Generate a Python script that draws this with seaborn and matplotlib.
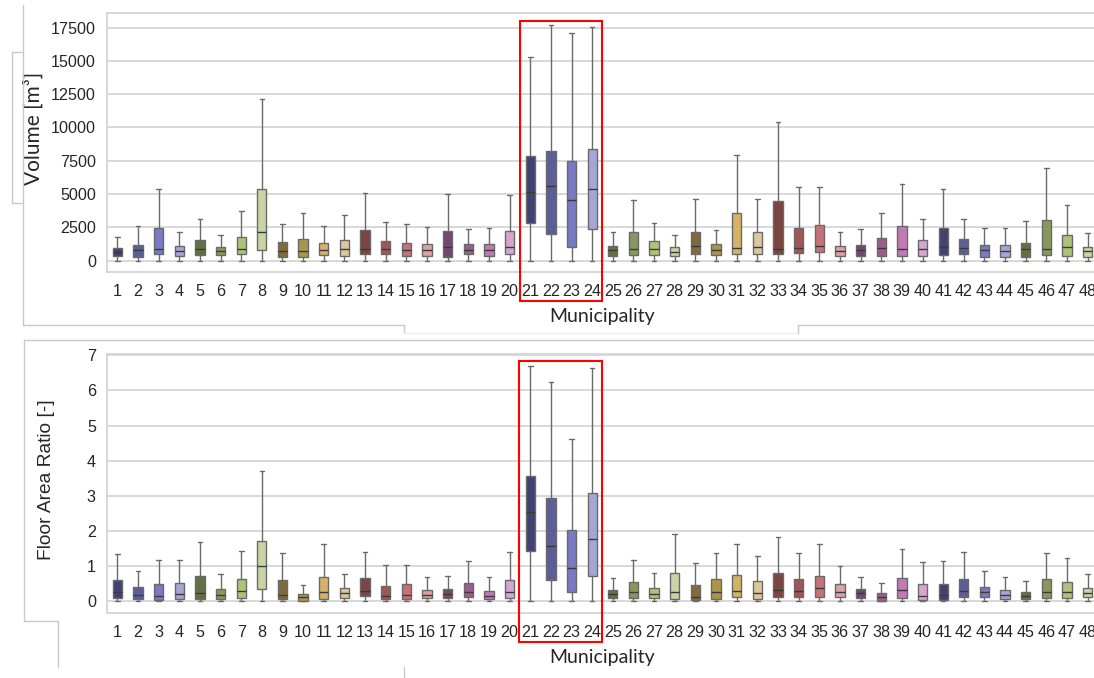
import numpy as np
import pandas as pd
import matplotlib
matplotlib.use("Agg")
import matplotlib.pyplot as plt
from matplotlib.lines import Line2D
from matplotlib.patches import Rectangle
import seaborn as sns

# Municipality identifiers
municipalities = [str(i) for i in range(1, 49)]

# Building volume [m3] per municipality: whisker ends, quartiles and median
vol_low = [0] * 48
vol_q1 = [340, 240, 480, 340, 440, 440, 460, 825, 290, 290,
          390, 340, 510, 460, 360, 340, 290, 460, 340, 460,
          2790, 1965, 1010, 2360, 360, 440, 390, 320, 490, 410,
          490, 490, 490, 560, 615, 340, 340, 340, 340, 360,
          410, 490, 260, 290, 240, 440, 340, 240]
vol_med = [640, 760, 900, 710, 840, 690, 840, 2120, 740, 740,
           760, 840, 890, 890, 760, 760, 1040, 790, 790, 1040,
           5115, 5590, 4540, 5385, 790, 840, 860, 680, 1100, 790,
           940, 1010, 860, 940, 1090, 740, 790, 915, 840, 890,
           1040, 965, 790, 740, 840, 840, 990, 740]
vol_q3 = [940, 1190, 2410, 1090, 1510, 1000, 1760, 5380, 1370, 1590,
          1310, 1540, 2310, 1460, 1340, 1210, 2190, 1210, 1240, 2210,
          7840, 8235, 7515, 8415, 1090, 2115, 1440, 1000, 2140, 1240,
          3560, 2140, 4460, 2480, 2660, 1110, 1160, 1710, 2610, 1540,
          2440, 1590, 1140, 1190, 1340, 3040, 1890, 990]
vol_high = [1785, 2560, 5340, 2140, 3110, 1935, 3710, 12150, 2740, 3540,
            2610, 3460, 5090, 2910, 2760, 2510, 5010, 2340, 2460, 4890,
            15285, 17685, 17060, 17535, 2140, 4540, 2790, 1910, 4610, 2290,
            7910, 4650, 10400, 5510, 5535, 2160, 2340, 3540, 5740, 3090,
            5385, 3090, 2415, 2415, 2960, 6990, 4190, 2040]

# Floor area ratio [-] per municipality
far_low = [0.0] * 48
far_q1 = [0.09, 0.07, 0.04, 0.06, 0.06, 0.06, 0.10, 0.35, 0.06, 0.02,
          0.05, 0.09, 0.15, 0.05, 0.06, 0.09, 0.08, 0.11, 0.07, 0.08,
          1.44, 0.59, 0.26, 0.71, 0.09, 0.09, 0.08, 0.06, 0.04, 0.06,
          0.12, 0.05, 0.12, 0.13, 0.11, 0.11, 0.09, 0.01, 0.09, 0.04,
          0.04, 0.11, 0.11, 0.06, 0.06, 0.09, 0.09, 0.11]
far_med = [0.26, 0.18, 0.16, 0.21, 0.24, 0.19, 0.29, 0.99, 0.19, 0.11,
           0.25, 0.23, 0.30, 0.15, 0.19, 0.18, 0.20, 0.27, 0.16, 0.27,
           2.55, 1.58, 0.95, 1.77, 0.21, 0.25, 0.21, 0.25, 0.12, 0.25,
           0.30, 0.22, 0.33, 0.30, 0.37, 0.26, 0.22, 0.11, 0.32, 0.16,
           0.18, 0.30, 0.25, 0.19, 0.15, 0.26, 0.27, 0.24]
far_q3 = [0.61, 0.40, 0.50, 0.51, 0.71, 0.36, 0.64, 1.71, 0.59, 0.21,
          0.70, 0.38, 0.67, 0.44, 0.48, 0.33, 0.34, 0.52, 0.30, 0.61,
          3.56, 2.93, 2.03, 3.08, 0.32, 0.55, 0.38, 0.80, 0.45, 0.62,
          0.75, 0.58, 0.80, 0.63, 0.72, 0.48, 0.35, 0.23, 0.66, 0.48,
          0.48, 0.64, 0.41, 0.33, 0.27, 0.62, 0.55, 0.38]
far_high = [1.35, 0.87, 1.18, 1.18, 1.68, 0.78, 1.43, 3.70, 1.37, 0.47,
            1.62, 0.78, 1.40, 1.02, 1.03, 0.68, 0.73, 1.15, 0.68, 1.41,
            6.70, 6.25, 4.61, 6.64, 0.67, 1.18, 0.80, 1.90, 1.10, 1.37,
            1.62, 1.30, 1.82, 1.37, 1.63, 1.01, 0.70, 0.52, 1.50, 1.12,
            1.14, 1.39, 0.87, 0.70, 0.58, 1.37, 1.23, 0.78]

vol_ticks = [0, 2500, 5000, 7500, 10000, 12500, 15000, 17500]
far_ticks = [0, 1, 2, 3, 4, 5, 6, 7]


def five_number_frame(low, q1, med, q3, high, name):
    # Five values per group reproduce the quartiles exactly with linear percentiles
    rows = []
    for m, vals in zip(municipalities, zip(low, q1, med, q3, high)):
        for v in vals:
            rows.append({"Municipality": m, name: v})
    return pd.DataFrame(rows)


vol_df = five_number_frame(vol_low, vol_q1, vol_med, vol_q3, vol_high, "Volume")
far_df = five_number_frame(far_low, far_q1, far_med, far_q3, far_high, "FAR")

sns.set_theme(style="whitegrid")
plt.rcParams["font.family"] = ["Liberation Sans", "DejaVu Sans"]

base = sns.color_palette("tab20b", 20)
palette = [base[i % 20] for i in range(len(municipalities))]

W, H = 1094, 678
fig = plt.figure(figsize=(W / 100, H / 100), dpi=100)


def fx(px):
    return px / W


def fy(py):
    return 1 - py / H


ax_top = fig.add_axes([fx(107), fy(272), fx(991), 259 / H])
ax_bot = fig.add_axes([fx(107), fy(613), fx(991), 259 / H])

grid_col = "#d6d6d6"
line_col = "#6a6a6a"

for ax, df, col, ticks, ylim in [
    (ax_top, vol_df, "Volume", vol_ticks, (-860, 18600)),
    (ax_bot, far_df, "FAR", far_ticks, (-0.335, 7.035)),
]:
    sns.boxplot(data=df, x="Municipality", y=col, hue="Municipality",
                order=municipalities, hue_order=municipalities,
                palette=palette, legend=False, whis=(0, 100),
                showfliers=False, width=0.45, linewidth=1.0,
                linecolor=line_col,
                medianprops={"color": "#3a3a3a"}, ax=ax)
    ax.set_ylim(*ylim)
    ax.set_xlim(-0.5, len(municipalities) - 0.5)
    ax.set_yticks(ticks)
    ax.yaxis.grid(True, color=grid_col, linewidth=1.3)
    ax.xaxis.grid(False)
    for s in ax.spines.values():
        s.set_color(grid_col)
        s.set_linewidth(1.3)
    ax.tick_params(axis="both", length=0, labelsize=11.6, colors="#262626")
    ax.tick_params(axis="x", pad=8.5)
    ax.tick_params(axis="y", pad=8)
    ax.set_xlabel("Municipality", fontsize=14, family=["Lato", "DejaVu Sans"],
                  color="#262626", labelpad=6.5)

ax_top.set_ylabel("Volume [m³]", fontsize=15, family=["Lato", "DejaVu Sans"],
                  color="#262626")
ax_top.yaxis.set_label_coords((34 - 107) / 991, (272 - 128) / 259)
ax_top.yaxis.label.set_va("center")

ax_bot.set_ylabel("Floor Area Ratio [-]", fontsize=13.8, color="#262626")
ax_bot.yaxis.set_label_coords((47 - 107) / 991, (613 - 480) / 259)
ax_bot.yaxis.label.set_va("center")

# Thin frame lines around the two panels
frame_col = "#c8c8c8"
frame_lines = [
    ([23, 23], [5, 325], frame_col),
    ([23, 404], [325, 325], frame_col),
    ([404, 404], [325, 333], frame_col),
    ([404, 798], [333, 333], "#ececec"),
    ([798, 798], [333, 325], frame_col),
    ([798, W], [325, 325], frame_col),
    ([12, 23], [52, 52], frame_col),
    ([12, 12], [52, 203], frame_col),
    ([12, 23], [203, 203], frame_col),
    ([24, W], [340, 340], frame_col),
    ([24, 24], [340, 621], frame_col),
    ([24, 58], [621, 621], frame_col),
    ([58, 58], [621, 667], frame_col),
    ([404, 404], [667, H], frame_col),
]
for xs, ys, c in frame_lines:
    fig.add_artist(Line2D([fx(v) for v in xs], [fy(v) for v in ys],
                          transform=fig.transFigure, color=c, linewidth=1.0))

# Highlight municipalities 21-24 in both panels
for x0, y0, x1, y1 in [(520, 21, 602, 301), (519, 361, 602, 642)]:
    fig.add_artist(Rectangle((fx(x0), fy(y1)), fx(x1 - x0), (y1 - y0) / H,
                             transform=fig.transFigure, fill=False,
                             edgecolor="#ff0000", linewidth=1.5))

fig.savefig("out.png", dpi=100)
